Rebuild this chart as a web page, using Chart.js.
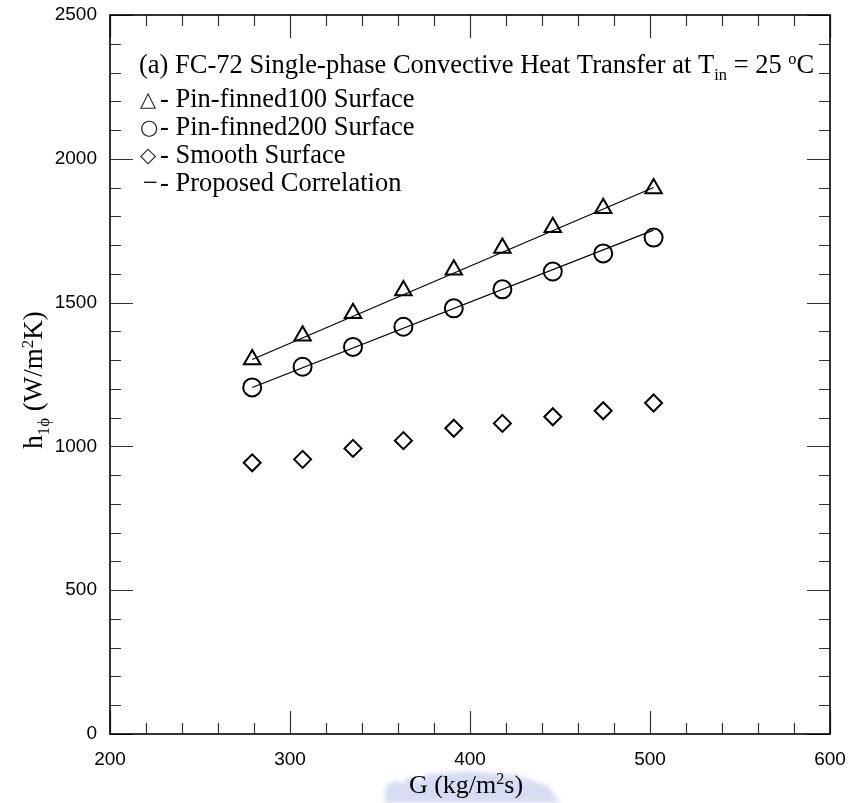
<!DOCTYPE html>
<html>
<head>
<meta charset="utf-8">
<script src="https://cdn.jsdelivr.net/npm/chart.js@4.4.1/dist/chart.umd.min.js"></script>
<style>
    body { margin: 0; background: #ffffff; }
    #wrap { width: 851px; height: 803px; position: relative; }
</style>
</head>
<body>
<div id="wrap"><canvas id="htcChart"></canvas></div>
<script>
// mass flux G (kg/m2s)
const massFlux = [279, 307, 335, 363, 391, 418, 446, 474, 502];
// single-phase heat transfer coefficient (W/m2K)
const pinFinned100 = [1302, 1385, 1463, 1542, 1614, 1690, 1762, 1828, 1897];
const pinFinned200 = [1205, 1277, 1346, 1416, 1480, 1546, 1608, 1671, 1726];
const smoothSurface = [943, 955, 993, 1020, 1063, 1080, 1103, 1124, 1151];
// proposed correlation, end points of each fitted line
const corrG = [279, 502];
const corr100 = [1302, 1900];
const corr200 = [1205, 1752];

const xTicks = [200, 300, 400, 500, 600];
const yTicks = [0, 500, 1000, 1500, 2000, 2500];

const SERIF = '"Liberation Serif", "Times New Roman", serif';
const SANS = '"Liberation Sans", Arial, sans-serif';

function toPoints(xs, ys) {
    return xs.map((x, i) => ({ x: x, y: ys[i] }));
}

// draws a run of text pieces with sub/superscripts, returns the width
function richText(ctx, parts, x, y, size, measureOnly) {
    let cx = x;
    parts.forEach(p => {
        const small = p.sub || p.sup;
        const s = small ? size * 0.62 : size;
        ctx.font = `${s}px ${SERIF}`;
        const dy = p.sub ? size * 0.27 : (p.sup ? -size * 0.34 : 0);
        if (!measureOnly) ctx.fillText(p.t, cx, y + dy);
        cx += ctx.measureText(p.t).width;
    });
    return cx - x;
}

const framePlugin = {
    id: 'frameTicks',
    beforeDraw(chart) {
        const ctx = chart.ctx;
        // faint blue mark behind the axis title
        ctx.save();
        ctx.filter = 'blur(2.5px)';
        ctx.fillStyle = 'rgba(130, 150, 220, 0.33)';
        ctx.beginPath();
        ctx.moveTo(384, 803);
        ctx.lineTo(386, 786);
        ctx.lineTo(396, 780);
        ctx.lineTo(402, 784);
        ctx.lineTo(410, 776);
        ctx.lineTo(418, 781);
        ctx.lineTo(428, 774);
        ctx.lineTo(470, 771);
        ctx.lineTo(520, 776);
        ctx.lineTo(548, 786);
        ctx.lineTo(560, 803);
        ctx.closePath();
        ctx.fill();
        ctx.restore();
    },
    afterDatasetsDraw(chart) {
        const ctx = chart.ctx;
        const xs = chart.scales.x;
        const ys = chart.scales.y;
        const { left, right, top, bottom } = chart.chartArea;

        ctx.save();
        ctx.strokeStyle = '#333333';
        ctx.lineWidth = 1.2;
        ctx.beginPath();
        for (let v = xs.min; v <= xs.max; v += 20) {
            const px = Math.round(xs.getPixelForValue(v)) + 0.5;
            const len = v % 100 === 0 ? 23 : 11;
            ctx.moveTo(px, bottom); ctx.lineTo(px, bottom - len);
            ctx.moveTo(px, top); ctx.lineTo(px, top + len);
        }
        for (let v = ys.min; v <= ys.max; v += 100) {
            const py = Math.round(ys.getPixelForValue(v)) + 0.5;
            const len = v % 500 === 0 ? 23 : 11;
            ctx.moveTo(left, py); ctx.lineTo(left + len, py);
            ctx.moveTo(right, py); ctx.lineTo(right - len, py);
        }
        ctx.stroke();

        ctx.strokeStyle = '#000000';
        ctx.lineWidth = 1.6;
        ctx.strokeRect(left, top, right - left, bottom - top);

        // legend block
        ctx.fillStyle = '#000000';
        ctx.textBaseline = 'alphabetic';
        ctx.textAlign = 'left';
        const fs = 26.5;
        richText(ctx, [
            { t: '(a) FC-72 Single-phase Convective Heat Transfer at T' },
            { t: 'in', sub: true },
            { t: ' = 25 ' },
            { t: 'o', sup: true },
            { t: 'C' }
        ], 139, 73, fs);

        const rows = [
            { sym: '\u25B3', label: '- Pin-finned100 Surface', y: 107 },
            { sym: '\u25CB', label: '- Pin-finned200 Surface', y: 135 },
            { sym: '\u25C7', label: '- Smooth Surface', y: 163 },
            { sym: '\u2212', label: '- Proposed Correlation', y: 191 }
        ];
        rows.forEach(r => {
            if (r.sym === '\u2212') {
                ctx.font = `${fs}px ${SERIF}`;
                ctx.fillText(r.sym, 143, r.y);
            } else {
                ctx.font = '21px "DejaVu Sans", sans-serif';
                ctx.fillStyle = '#222222';
                ctx.fillText(r.sym, 140, r.y - 1);
                ctx.fillStyle = '#000000';
            }
            ctx.font = `${fs}px ${SERIF}`;
            ctx.fillText(r.label, 160, r.y);
        });

        // x axis title
        const xTitle = [{ t: 'G (kg/m' }, { t: '2', sup: true }, { t: 's)' }];
        const xw = richText(ctx, xTitle, 0, 0, 26, true);
        richText(ctx, xTitle, 466 - xw / 2, 793, 26);

        // y axis title
        const yTitle = [
            { t: 'h' }, { t: '1\u03D5', sub: true }, { t: ' (W/m' },
            { t: '2', sup: true }, { t: 'K)' }
        ];
        const yw = richText(ctx, yTitle, 0, 0, 27, true);
        ctx.translate(42, 380);
        ctx.rotate(-Math.PI / 2);
        richText(ctx, yTitle, -yw / 2, 0, 27);
        ctx.restore();
    }
};

const markerBase = {
    type: 'scatter',
    borderColor: '#000000',
    backgroundColor: 'rgba(0,0,0,0)',
    pointBorderWidth: 2,
    showLine: false
};

new Chart(document.getElementById('htcChart'), {
    data: {
        datasets: [
            {
                type: 'line', data: toPoints(corrG, corr100),
                borderColor: '#000000', borderWidth: 1.2, pointRadius: 0
            },
            {
                type: 'line', data: toPoints(corrG, corr200),
                borderColor: '#000000', borderWidth: 1.2, pointRadius: 0
            },
            Object.assign({}, markerBase, {
                data: toPoints(massFlux, pinFinned100), pointStyle: 'triangle', pointRadius: 9.5
            }),
            Object.assign({}, markerBase, {
                data: toPoints(massFlux, pinFinned200), pointStyle: 'circle', pointRadius: 9
            }),
            Object.assign({}, markerBase, {
                data: toPoints(massFlux, smoothSurface), pointStyle: 'rectRot', pointRadius: 8.5
            })
        ]
    },
    options: {
        responsive: true,
        maintainAspectRatio: false,
        animation: false,
        devicePixelRatio: 1,
        layout: { padding: { left: 0, right: 21, top: 15, bottom: 0 } },
        plugins: {
            legend: { display: false },
            tooltip: { enabled: false }
        },
        scales: {
            x: {
                type: 'linear',
                min: xTicks[0],
                max: xTicks[xTicks.length - 1],
                grid: { display: false, drawTicks: false },
                border: { display: false },
                afterFit: s => { s.height = 69; s.paddingLeft = 0; s.paddingRight = 0; },
                afterBuildTicks: s => { s.ticks = xTicks.map(v => ({ value: v })); },
                ticks: {
                    color: '#000000', padding: 14, font: { family: SANS, size: 19 },
                    callback: v => String(v)
                }
            },
            y: {
                type: 'linear',
                min: yTicks[0],
                max: yTicks[yTicks.length - 1],
                grid: { display: false, drawTicks: false },
                border: { display: false },
                afterFit: s => { s.width = 110; s.paddingTop = 0; s.paddingBottom = 0; },
                afterBuildTicks: s => { s.ticks = yTicks.map(v => ({ value: v })); },
                ticks: {
                    color: '#000000', padding: 13, font: { family: SANS, size: 19 },
                    callback: v => String(v)
                }
            }
        }
    },
    plugins: [framePlugin]
});
</script>
</body>
</html>
